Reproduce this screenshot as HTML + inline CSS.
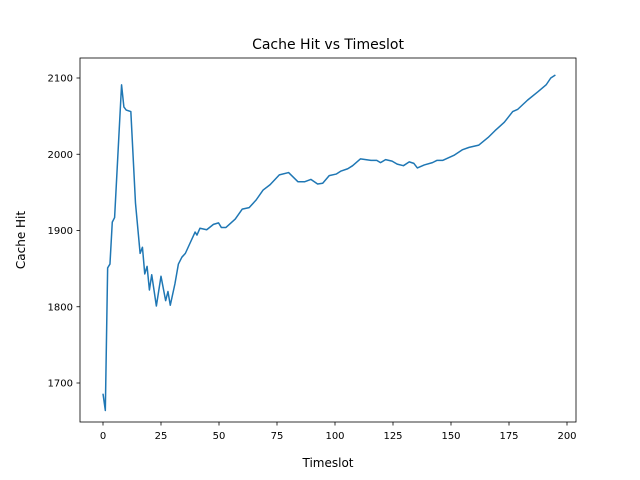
<!DOCTYPE html>
<html><head><meta charset="utf-8"><style>
html,body{margin:0;padding:0;background:#fff;}
svg{display:block;font-family:"DejaVu Sans","Liberation Sans",sans-serif;}
</style></head><body>
<svg id="chart" width="640" height="480" viewBox="0 0 640 480">
<rect width="640" height="480" fill="#fff"/>
<text x="328" y="49" font-size="14" text-anchor="middle">Cache Hit vs Timeslot</text>
<g id="axes"></g>
<text x="328" y="467" font-size="12" text-anchor="middle">Timeslot</text>
<text transform="translate(25,240) rotate(-90)" font-size="12" text-anchor="middle">Cache Hit</text>
</svg>
<script>
const xs=[0,1,2,3,4,5,8,9,10,12,14,16,17,18,19,20,21,23,25,27,28,29,31,32.5,34,35.5,37,39.7,40.5,41.8,44.7,47.6,49.8,51,53,57,60,63,66,69,72,76,80,84,87,89.6,92.5,94.7,97.5,100.5,102.6,105.5,107.6,111,115.5,118,119.6,121.8,124.6,126.8,129.5,132,134,135.5,138.5,142,144,146.5,151.5,155,157.8,162,166,169,173,176.6,178.8,183,187.5,191,193,195];
const ys=[1686,1664,1851,1856,1911,1917,2091,2062,2058,2056,1936,1870,1878,1843,1853,1822,1842,1801,1840,1808,1820,1802,1830,1856,1865,1870,1880,1898,1894,1903,1901,1908,1910,1904,1904,1915,1928,1930,1940,1953,1960,1973,1976,1964,1964,1967,1961,1962,1972,1974,1978,1981,1985,1994,1992,1992,1989,1993,1991,1987,1985,1990,1988,1982,1986,1989,1992,1992,1999,2006,2009,2012,2022,2031,2042,2056,2059,2071,2082,2091,2100,2104];
const xTicks=[0,25,50,75,100,125,150,175,200];
const yTicks=[1700,1800,1900,2000,2100];
const L=80,R=576,T=58,B=422;
const sx=v=>103+v*2.32;
const sy=v=>78+(2100-v)*0.7625;
const NS="http://www.w3.org/2000/svg";
const g=document.getElementById('axes');
function mk(t,a){const e=document.createElementNS(NS,t);for(const k in a)e.setAttribute(k,a[k]);g.appendChild(e);return e;}
xTicks.forEach(v=>{
  const l=mk('line',{x1:sx(v),x2:sx(v),y1:B,y2:B+3.5,stroke:'#000','stroke-width':0.8});
  
  
  const t=mk('text',{x:sx(v),y:B+17,'font-size':10,'text-anchor':'middle'});t.textContent=v;
  
  
});
yTicks.forEach(v=>{
  const l=mk('line',{x1:L-3.5,x2:L,y1:sy(v),y2:sy(v),stroke:'#000','stroke-width':0.8});
  
  
  const t=mk('text',{x:L-7,y:sy(v)+3.5,'font-size':10,'text-anchor':'end'});t.textContent=v;
  
  
});
const p=mk('polyline',{points:xs.map((x,i)=>sx(x)+','+sy(ys[i])).join(' '),fill:'none',stroke:'#1f77b4','stroke-width':1.5,'stroke-linejoin':'round'});


const f=mk('rect',{x:L,y:T,width:R-L,height:B-T,fill:'none',stroke:'#000','stroke-width':0.8});


</script>
</body></html>
